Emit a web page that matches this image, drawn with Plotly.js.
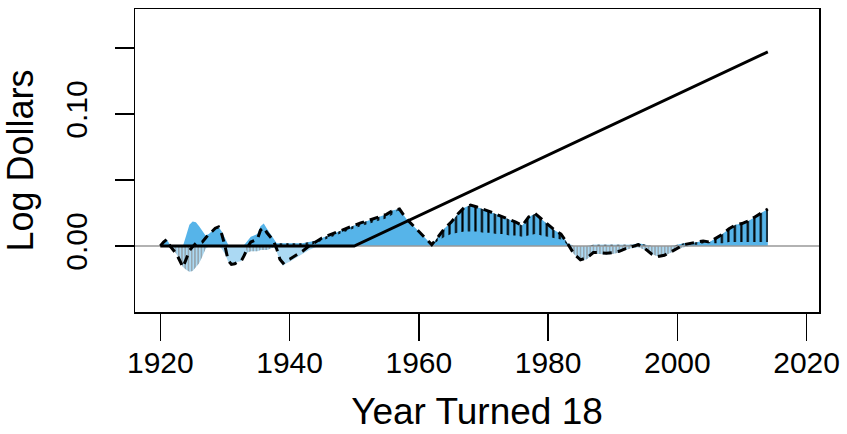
<!DOCTYPE html>
<html>
<head>
<meta charset="utf-8">
<script src="https://cdn.plot.ly/plotly-3.0.1.min.js"></script>
<style>html,body{margin:0;padding:0;background:#fff;}#chart{width:847px;height:434px;}</style>
</head>
<body>
<div id="chart"></div>
<script>
// Year turned 18 (half-years to 1940, then annual)
var years = [1920.0,1920.5,1921.0,1921.5,1922.0,1922.5,1923.0,1923.5,1924.0,1924.5,
  1925.0,1925.5,1926.0,1926.5,1927.0,1927.5,1928.0,1928.5,1929.0,1929.5,
  1930.0,1930.5,1931.0,1931.5,1932.0,1932.5,1933.0,1933.5,1934.0,1934.5,
  1935.0,1935.5,1936.0,1936.5,1937.0,1937.5,1938.0,1938.5,1939.0,1939.5,1940.0,
  1941,1942,1943,1944,1945,1946,1947,1948,1949,1950,
  1951,1952,1953,1954,1955,1956,1957,1958,1959,1960,
  1961,1962,1963,1964,1965,1966,1967,1968,1969,1970,
  1971,1972,1973,1974,1975,1976,1977,1978,1979,1980,
  1981,1982,1983,1984,1985,1986,1987,1988,1989,1990,
  1991,1992,1993,1994,1995,1996,1997,1998,1999,2000,
  2001,2002,2003,2004,2005,2006,2007,2008,2009,2010,
  2011,2012,2013,2014];

// positive components (top of blue area)
var positive = [0,0.003,0.005,0.001,0,0,0,0,0.008,0.016,
  0.0185,0.018,0.015,0.011,0.008,0.009,0.011,0.0135,0.0145,0.011,
  0.006,0.001,0,0,0,0,0.001,0.004,0.007,0.008,
  0.009,0.015,0.017,0.013,0.009,0.005,0.002,0.002,0.002,0.002,0.002,
  0.002,0.002,0.003,0.004,0.006,0.008,0.010,0.012,0.014,0.016,
  0.0175,0.019,0.0205,0.022,0.024,0.027,0.028,0.021,0.016,0.011,
  0.0055,0.001,0.007,0.0135,0.018,0.024,0.029,0.031,0.0295,0.028,
  0.026,0.024,0.022,0.0205,0.018,0.0155,0.022,0.0245,0.0205,0.016,
  0.012,0.009,0.002,0,0,0,0.001,0.001,0.001,0.001,
  0.001,0.001,0.001,0.002,0.001,0,0,0,0,0.001,
  0.002,0.002,0.003,0.0038,0.003,0.006,0.009,0.013,0.016,0.017,
  0.019,0.022,0.025,0.028];

// lower edge of the hatched positive component
var hatchLow = [0,0.003,0.005,0.001,0,0,0,0,0.008,0.016,
  0.0185,0.018,0.015,0.011,0.008,0.009,0.011,0.0135,0.0145,0.011,
  0.006,0.001,0,0,0,0,0.001,0.004,0.007,0.008,
  0.009,0.015,0.017,0.013,0.009,0.005,0.002,0,0,0,0,
  0,0,0,0.002,0.004,0.006,0.008,0.010,0.0115,0.0135,
  0.015,0.0165,0.018,0.0195,0.021,0.024,0.028,0.021,0.016,0.011,
  0.0055,0.001,0.004,0.007,0.009,0.010,0.011,0.011,0.011,0.010,
  0.010,0.009,0.009,0.008,0.008,0.007,0.008,0.009,0.008,0.007,
  0.006,0.005,0.001,0,0,0,0,0,0,0,
  0,0,0,0,0,0,0,0,0,0,
  0.001,0.001,0.001,0.002,0.002,0.002,0.002,0.003,0.003,0.003,
  0.003,0.003,0.003,0.003];

// negative components (bottom of light blue area)
var negative = [0,0,0,-0.001,-0.003,-0.006,-0.011,-0.016,-0.018,-0.0195,
  -0.019,-0.016,-0.013,-0.008,-0.002,0,0,0,0,-0.002,
  -0.006,-0.012,-0.014,-0.0135,-0.012,-0.0115,-0.008,-0.005,-0.004,-0.004,
  -0.004,-0.003,-0.003,-0.003,-0.002,-0.001,-0.004,-0.012,-0.015,-0.013,-0.012,
  -0.009,-0.006,-0.003,-0.001,0,0,0,0,0,0,
  0,0,0,0,0,0,0,0,0,0,
  0,0,0,0,0,0,0,0,0,0,
  0,0,0,0,0,0,0,0,0,0,
  0,0,0,-0.006,-0.011,-0.010,-0.006,-0.006,-0.0065,-0.006,
  -0.005,-0.003,-0.0015,-0.001,-0.003,-0.006,-0.008,-0.0075,-0.005,-0.0025,
  -0.001,0,0,0,0,0,0,0,0,0,
  0,0,0,0];

// extent of the grey-hatched negative component
var greyHatch = [0,0,0,0,-0.003,-0.006,-0.011,-0.016,-0.018,-0.0195,
  -0.019,-0.016,-0.013,-0.008,-0.002,0,0,0,0,0,
  0,0,0,0,0,0,0,-0.005,-0.004,-0.004,
  -0.004,-0.003,-0.003,-0.003,-0.002,-0.001,0,0,0,0,0,
  0,0,0,0,0,0,0,0,0,0,
  0,0,0,0,0,0,0,0,0,0,
  0,0,0,0,0,0,0,0,0,0,
  0,0,0,0,0,0,0,0,0,0,
  0,0,0,-0.006,-0.011,-0.010,-0.006,-0.006,-0.0065,-0.006,
  -0.005,-0.003,-0.0015,-0.001,-0.003,-0.006,-0.008,-0.0075,-0.005,-0.0025,
  -0.001,0,0,0,0,0,0,0,0,0,
  0,0,0,0];

// net effect (dashed line)
var net = [0,0.003,0.005,0,-0.003,-0.006,-0.011,-0.016,-0.010,-0.0035,
  -0.0005,0.002,0.002,0.003,0.006,0.009,0.011,0.0135,0.0145,0.009,
  0,-0.011,-0.014,-0.0135,-0.012,-0.0115,-0.007,-0.001,0.003,0.004,
  0.005,0.012,0.014,0.010,0.007,0.004,-0.002,-0.010,-0.013,-0.011,-0.010,
  -0.007,-0.004,0,0.003,0.006,0.008,0.010,0.012,0.014,0.016,
  0.0175,0.019,0.0205,0.022,0.024,0.027,0.028,0.021,0.016,0.011,
  0.0055,0.001,0.007,0.0135,0.018,0.024,0.029,0.031,0.0295,0.028,
  0.026,0.024,0.022,0.0205,0.018,0.0155,0.022,0.0245,0.0205,0.016,
  0.012,0.009,0.002,-0.006,-0.0105,-0.009,-0.005,-0.005,-0.0055,-0.005,
  -0.004,-0.002,-0.0005,0.001,-0.002,-0.006,-0.008,-0.007,-0.0045,-0.0015,
  0.001,0.002,0.003,0.0038,0.003,0.006,0.009,0.013,0.016,0.017,
  0.019,0.022,0.025,0.028];

// trend line
var trendYears = [1920, 1950, 2014];
var trendValues = [0, 0, 0.147];

var xTicks = [1920, 1940, 1960, 1980, 2000, 2020];
var yTicks = [0, 0.05, 0.10, 0.15];
var yTickLabels = ['0.00', '', '0.10', ''];
var xRange = [1916.08, 2021.92];
var yRange = [-0.05, 0.1795];

var BLUE = '#56B4E9';
var LIGHTBLUE = 'rgb(171,217,243)';

var traces = [
  {x: years, y: positive, type: 'scatter', mode: 'lines', line: {width: 0, color: BLUE},
   fill: 'tozeroy', fillcolor: BLUE, hoverinfo: 'skip'},
  {x: years, y: negative, type: 'scatter', mode: 'lines', line: {width: 0, color: LIGHTBLUE},
   fill: 'tozeroy', fillcolor: LIGHTBLUE, hoverinfo: 'skip'},
  {x: years, y: greyHatch, type: 'scatter', mode: 'lines', line: {width: 0, color: 'rgba(0,0,0,0)'},
   fill: 'tozeroy', fillcolor: 'rgba(0,0,0,0)',
   fillpattern: {shape: '|', size: 3.24, solidity: 0.32, fgcolor: '#8a8a8a', bgcolor: 'rgba(0,0,0,0)'},
   hoverinfo: 'skip'},
  {x: years, y: hatchLow, type: 'scatter', mode: 'lines', line: {width: 0, color: 'rgba(0,0,0,0)'},
   hoverinfo: 'skip'},
  {x: years, y: positive, type: 'scatter', mode: 'lines', line: {width: 0, color: 'rgba(0,0,0,0)'},
   fill: 'tonexty', fillcolor: 'rgba(0,0,0,0)',
   fillpattern: {shape: '|', size: 6.485, solidity: 0.33, fgcolor: '#000000', bgcolor: 'rgba(0,0,0,0)'},
   hoverinfo: 'skip'},
  {x: xRange, y: [0, 0], type: 'scatter', mode: 'lines', line: {width: 1.5, color: '#999999'}, hoverinfo: 'skip'},
  {x: trendYears, y: trendValues, type: 'scatter', mode: 'lines', line: {width: 3, color: '#000000'}},
  {x: years, y: net, type: 'scatter', mode: 'lines', line: {width: 3, color: '#000000', dash: '9px,6px'}}
];

var FONT = 'Liberation Sans, Arial, Helvetica, sans-serif';

var layout = {
  width: 847, height: 434,
  margin: {l: 135, r: 28, t: 9, b: 122},
  paper_bgcolor: '#ffffff', plot_bgcolor: '#ffffff',
  showlegend: false,
  font: {family: FONT, color: '#000000'},
  xaxis: {
    range: xRange, tickvals: xTicks, ticktext: xTicks.map(String),
    showgrid: false, zeroline: false,
    showline: true, mirror: true, linecolor: '#000000', linewidth: 1.5,
    ticks: 'outside', ticklen: 27, tickwidth: 1.5, tickcolor: '#000000',
    tickfont: {size: 30, family: FONT, color: '#000000'},
    ticklabelstandoff: -4,
    title: {text: 'Year Turned 18', font: {size: 37, family: FONT, color: '#000000'}, standoff: 20},
    automargin: false
  },
  yaxis: {
    range: yRange, tickvals: yTicks, ticktext: yTickLabels,
    showgrid: false, zeroline: false,
    showline: true, mirror: true, linecolor: '#000000', linewidth: 1.5,
    ticks: 'outside', ticklen: 19, tickwidth: 1.5, tickcolor: '#000000',
    tickangle: -90,
    tickfont: {size: 30, family: FONT, color: '#000000'},
    ticklabelstandoff: 16,
    title: {text: 'Log Dollars', font: {size: 36, family: FONT, color: '#000000'}, standoff: 16},
    automargin: false
  }
};

Plotly.newPlot('chart', traces, layout, {staticPlot: true, displayModeBar: false});
</script>
</body>
</html>
